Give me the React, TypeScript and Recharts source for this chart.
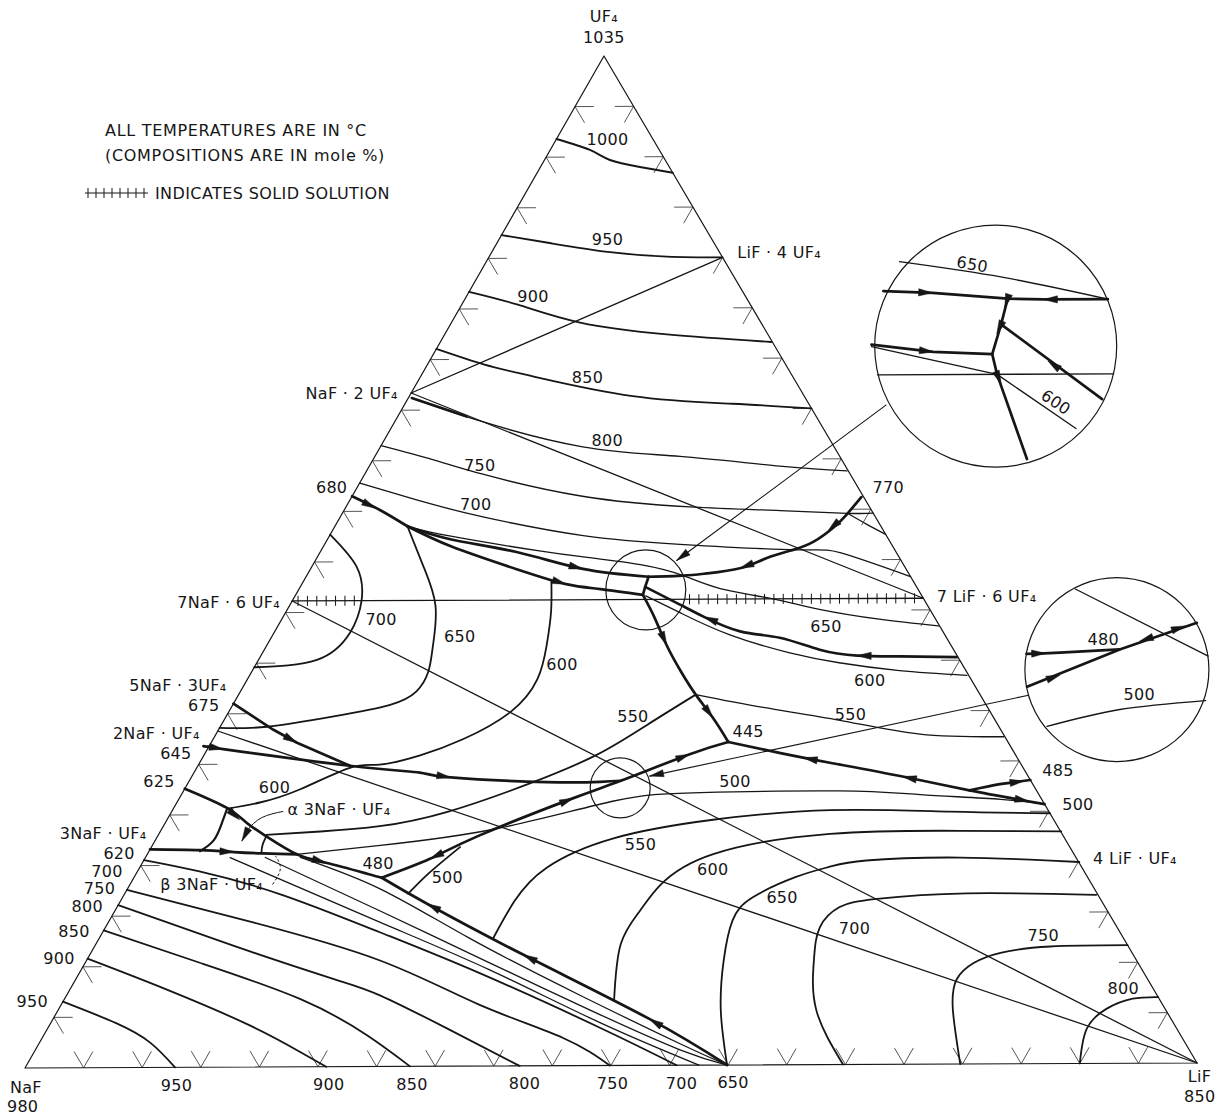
import React from "react";
import { ComposedChart, Line, Scatter, XAxis, YAxis } from "recharts";

// Every point is a composition: [mol % LiF, mol % UF4]  (NaF = 100 - LiF - UF4)
type P = [number, number];

// ---------------- compounds / invariant points ----------------
const NAF: P = [0, 0];
const LIF: P = [100, 0];
const UF4: P = [0, 100];
const NAF_2UF4: P = [0, 66.7];
const LIF_4UF4: P = [20, 80];
const NAF7_6UF4: P = [0, 46.15];
const LIF7_6UF4: P = [53.85, 46.15];
const NAF2_UF4: P = [0, 33.3];

// ---------------- UF4-rich isotherms ----------------
const ISO_1000: P[] = [[0, 91.8], [3.4, 90.7], [5.6, 89.7], [8.5, 89.0], [11.6, 88.4]];
const ISO_950: P[] = [[0, 82.3], [4.5, 81.5], [9.9, 80.6], [15.2, 80.1], [20, 80]];
const ISO_900: P[] = [[0, 76.7], [4.8, 75.4], [11.0, 73.6], [19.0, 72.4], [28.3, 71.6]];
const ISO_850: P[] = [[0, 71.05], [4.8, 69.5], [9.6, 68.3], [19.1, 66.3], [28.0, 65.5], [35.0, 65.0]];
const ISO_800: P[] = [[0.3, 66.2], [7.6, 63.8], [17.3, 61.3], [26.1, 60.3], [35.1, 59.3], [41.1, 58.8]];
const ISO_800_START: P[] = [[0.3, 66.2], [5.9, 64.35]];
const ISO_750: P[] = [[0, 61.5], [5.1, 60.1], [10.2, 58.6], [19.7, 56.4], [29.4, 55.3], [37.3, 54.9], [43.2, 54.6], [45.4, 54.6]];
const ISO_750_BRANCH: P[] = [[43.2, 54.6], [45.4, 53.5], [47.5, 52.5]];
const ISO_700_TOP: P[] = [[0, 57.8], [5.7, 56.1], [12.2, 54.4], [21.7, 52.5], [30.4, 51.6], [40.6, 51.0], [44.5, 50.7], [51.7, 48.3]];
const ISO_650_TOP: P[] = [[6.2, 53.5], [10.4, 52.5], [18.7, 51.0], [22.7, 50.4], [28.0, 49.6], [32.2, 48.5], [36.0, 47.2], [40.8, 46.2], [45.5, 45.1], [51.1, 44.1], [56.5, 43.4]];
const ISO_600_RIGHT: P[] = [[30.0, 46.5], [33.8, 44.8], [39.1, 42.6], [45.1, 40.8], [49.8, 39.8], [55.35, 39.0], [61.35, 38.5]];

// ---------------- 7NaF.6UF4 / 2NaF.UF4 fields ----------------
const ISO_700_76: P[] = [[0, 52.7], [3.85, 49.5], [5.9, 46.2], [6.5, 42.95], [5.0, 40.3], [0, 39.6]];
const ISO_650_76: P[] = [[6.2, 53.5], [9.55, 49.5], [12.5, 45.6], [14.25, 41.6], [15.1, 39.1], [15.05, 37.15], [13.4, 35.8], [9.2, 34.7], [4.0, 33.7], [0, 33.6]];
const ISO_600_LEFT: P[] = [[21.2, 48.0], [22.7, 44.9], [23.95, 41.6], [24.8, 38.3], [24.1, 35.05], [21.4, 32.4], [18.5, 30.8], [15.5, 29.9], [13.1, 29.6], [9.9, 27.5], [7.1, 26.2], [4.6, 25.6]];
const ISO_600_ALPHA: P[] = [[4.6, 25.6], [4.85, 24.2], [5.0, 22.5], [4.35, 21.4]];
const ISO_550_ALPHA: P[] = [[9.3, 22.85], [9.4, 22.0], [9.7, 21.2]];
const ISO_550_LEFT: P[] = [[39.1, 36.7], [36.4, 33.7], [33.6, 30.8], [29.3, 28.0], [23.6, 25.2], [18.5, 23.8], [13.7, 23.3], [9.2, 23.0]];
const ISO_550_RIGHT: P[] = [[39.1, 36.7], [45.5, 35.4], [52.7, 34.1], [60.2, 32.7], [67.5, 32.4]];
const ISO_500_UPPER: P[] = [[12.8, 21.05], [19.5, 21.9], [28.6, 23.5], [37.3, 26.2], [44.3, 27.0], [56.1, 27.1], [63.2, 26.7], [70.3, 26.2], [74.3, 25.7]];
const ISO_500_LOWER: P[] = [[24.25, 17.1], [25.05, 19.2], [26.4, 21.7]];

// ---------------- LiF field ----------------
const ISO_550_LIF: P[] = [[33.7, 12.65], [33.7, 16.3], [34.8, 19.6], [39.1, 22.5], [46.7, 24.3], [56.3, 25.2], [66.55, 25.0], [75.2, 24.8]];
const ISO_600_LIF: P[] = [[47.1, 6.4], [44.9, 12.0], [44.9, 15.3], [45.4, 17.9], [48.4, 20.9], [57.4, 22.85], [68.4, 23.1], [77.05, 23.0]];
const ISO_650_LIF: P[] = [[59.9, 0], [56.7, 5.4], [54.5, 10.35], [53.3, 14.3], [53.9, 16.6], [56.6, 18.6], [59.0, 19.6], [61.8, 20.2], [69.7, 20.45], [80.1, 19.96]];
const ISO_700_LIF: P[] = [[69.8, 0], [64.85, 5.4], [62.2, 10.35], [61.1, 13.6], [61.8, 15.6], [64.6, 16.4], [72.0, 16.9], [83.15, 16.7]];
const ISO_750_LIF: P[] = [[79.8, 0], [76.5, 5.4], [75.35, 8.4], [76.0, 10.0], [77.8, 11.0], [81.75, 11.6], [88.3, 11.7]];
const ISO_800_LIF: P[] = [[90, 0], [88.9, 3.4], [89.6, 5.4], [91.35, 6.4], [93.45, 6.55]];

// ---------------- NaF field ----------------
const ISO_700_NAF: P[] = [[0, 20.55], [5.3, 19.4], [13.35, 17.1], [23.7, 13.3], [34.25, 9.2], [47.2, 3.75], [55.6, 0]];
const ISO_750_NAF: P[] = [[0, 17.6], [12.1, 14.4], [25.1, 10.5], [35.8, 6.06], [44.5, 2.77], [49.9, 0]];
const ISO_800_NAF: P[] = [[0, 16.1], [11.9, 12.0], [22.0, 8.7], [26.8, 7.05], [34.15, 3.75], [42.2, 0]];
const ISO_850_NAF: P[] = [[0, 13.6], [9.8, 10.35], [20.2, 6.7], [27.65, 3.1], [32.85, 0]];
const ISO_900_NAF: P[] = [[0, 10.8], [8.3, 7.7], [17.2, 4.1], [22.8, 1.45], [25.7, 0]];
const ISO_950_NAF: P[] = [[0, 6.55], [5.6, 4.4], [9.5, 2.44], [12.8, 0]];
const BETA_1: P[] = [[13.25, 20.75], [21.6, 17.6], [31.7, 12.65], [43.85, 7.0], [54.9, 2.1], [59.9, 0]];
const BETA_2: P[] = [[10.25, 20.75], [22.7, 15.4], [33.5, 10.7], [45.5, 5.5], [55.2, 1.5], [59.9, 0]];
const BETA_3: P[] = [[7.25, 20.75], [23.2, 14.3], [35.0, 9.5], [46.96, 4.25], [57.5, 0]];

// ---------------- boundary curves (heavy) ----------------
const B_680: P[] = [[0, 56.5], [3.1, 55.1], [6.2, 53.5]];
const B_UPPER: P[] = [[6.2, 53.5], [10.5, 52.2], [16.8, 50.9], [23.3, 49.2], [29.3, 48.4]];
const B_LOWER: P[] = [[6.2, 53.5], [10.9, 51.5], [17.65, 49.2], [22.6, 47.7], [25.8, 47.2], [29.7, 46.6]];
const B_J1J2: P[] = [[29.3, 48.4], [29.5, 47.4], [29.7, 46.6]];
const B_770: P[] = [[43.6, 56.2], [43.2, 54.5], [42.7, 53.2], [41.7, 51.8], [40.35, 51.0], [38.5, 50.2], [36.7, 49.2], [34.1, 48.7], [32.2, 48.5], [29.3, 48.4]];
const B_R600: P[] = [[29.5, 47.4], [33.4, 45.6], [36.0, 44.4], [39.8, 42.95], [43.5, 42.3], [47.5, 41.1], [51.0, 40.5], [54.7, 40.4], [59.6, 40.3]];
const B_TO_445: P[] = [[29.7, 46.6], [31.85, 44.3], [34.2, 41.6], [36.6, 39.1], [39.1, 36.7], [41.7, 34.4], [44.2, 32.0]];
const B_445_500: P[] = [[44.2, 32.0], [49.1, 30.9], [53.9, 29.9], [60.8, 28.5], [67.2, 27.1], [74.3, 25.7]];
const B_485: P[] = [[71.9, 28.1], [69.5, 27.7], [67.2, 27.1]];
const B_480_445: P[] = [[21.2, 18.7], [24.4, 20.55], [27.5, 22.85], [33.7, 26.5], [36.9, 28.2], [41.5, 30.8], [44.2, 32.0]];
const B_645: P[] = [[0, 31.75], [1.35, 31.5], [13.0, 29.8], [19.3, 29.1], [22.2, 28.6], [30.6, 28.1], [35.2, 28.1], [36.9, 28.2]];
const B_675: P[] = [[0, 36.0], [4.7, 33.4], [7.35, 32.1], [13.0, 29.8]];
const B_625: P[] = [[0, 27.6], [4.5, 25.7], [6.95, 24.2], [9.3, 22.85], [12.8, 21.05], [15.7, 20.2], [19.75, 19.1], [21.2, 18.7]];
const B_620: P[] = [[0, 21.6], [4.3, 21.5], [7.3, 21.3], [9.85, 21.15], [12.8, 21.05]];
const B_480_650: P[] = [[21.2, 18.7], [26.35, 16.1], [37.1, 11.0], [51.0, 4.6], [59.9, 0]];

// ---------------- pointers ----------------
const LEADER_TOP: P[] = [[41.2, 65.3], [30.9, 50.0]];
const LEADER_RIGHT: P[] = [[67.6, 36.5], [39.15, 28.65]];
const ALPHA_POINTER: P[] = [[9.5, 25.3], [8.0, 24.7], [7.4, 23.5], [7.45, 22.4]];
const BETA_BRACKET: P[] = [[12.2, 18.1], [12.1, 19.6], [11.1, 20.85]];

// ---------------- enlarged views ----------------
const IN1_650: P[] = [[35.35, 79.5], [45.0, 77.9], [55.0, 75.7]];
const IN1_TOP: P[] = [[35.4, 76.6], [39.7, 76.4], [46.4, 75.8], [49.5, 75.7], [55.0, 75.7]];
const IN1_VERT: P[] = [[46.4, 75.8], [47.1, 73.25], [47.8, 70.3]];
const IN1_DIAG: P[] = [[47.1, 73.25], [59.4, 65.8]];
const IN1_MID: P[] = [[37.0, 71.3], [42.65, 70.55], [47.8, 70.3]];
const IN1_DOWN: P[] = [[47.8, 70.3], [49.2, 68.3], [55.9, 59.9]];
const IN1_600: P[] = [[37.1, 71.1], [49.2, 68.3], [58.6, 62.9]];
const IN1_JOIN: P[] = [[39.0, 68.3], [59.15, 68.3]];
const IN2_JOIN: P[] = [[66.4, 47.0], [81.05, 40.3]];
const IN2_A: P[] = [[65.4, 40.6], [68.2, 40.7], [73.15, 41.0]];
const IN2_B: P[] = [[67.05, 37.35], [73.15, 41.0], [78.45, 43.6]];
const IN2_500: P[] = [[70.7, 33.4], [76.1, 35.05], [83.0, 35.9]];

// ---------------- circles: centre composition, radius ----------------
const CIRCLES: { at: P; r: number }[] = [
  { at: [29.7, 47.1], r: 40 },
  { at: [37.2, 27.5], r: 30 },
  { at: [47.7, 71.1], r: 121 },
  { at: [73.9, 39.0], r: 92 },
];

// ---------------- arrowheads: tip and a point behind it ----------------
const ARROWS: { at: P; from: P }[] = [
  { at: [2.6, 55.3], from: [0, 56.5] },
  { at: [42.4, 52.9], from: [43.2, 54.5] },
  { at: [36.7, 49.2], from: [38.5, 50.2] },
  { at: [23.3, 49.2], from: [16.8, 50.9] },
  { at: [22.6, 47.7], from: [17.65, 49.2] },
  { at: [36.0, 44.4], from: [39.8, 42.95] },
  { at: [51.0, 40.5], from: [54.7, 40.4] },
  { at: [34.2, 41.6], from: [31.85, 44.3] },
  { at: [41.7, 34.4], from: [39.1, 36.7] },
  { at: [41.5, 30.8], from: [36.9, 28.2] },
  { at: [33.7, 26.5], from: [27.5, 22.85] },
  { at: [24.4, 20.55], from: [27.5, 22.85] },
  { at: [51.4, 30.4], from: [53.9, 29.9] },
  { at: [60.8, 28.5], from: [67.2, 27.1] },
  { at: [72.8, 26.0], from: [67.2, 27.1] },
  { at: [71.4, 28.0], from: [69.5, 27.7] },
  { at: [1.35, 31.5], from: [0, 31.75] },
  { at: [22.2, 28.6], from: [19.3, 29.1] },
  { at: [7.35, 32.1], from: [4.7, 33.4] },
  { at: [6.2, 24.5], from: [4.5, 25.7] },
  { at: [15.7, 20.2], from: [12.8, 21.05] },
  { at: [7.3, 21.3], from: [4.3, 21.5] },
  { at: [26.35, 16.1], from: [37.1, 11.0] },
  { at: [37.1, 11.0], from: [51.0, 4.6] },
  { at: [51.0, 4.6], from: [59.9, 0] },
  { at: [30.9, 50.0], from: [41.2, 65.3] },
  { at: [39.15, 28.65], from: [67.6, 36.5] },
  { at: [7.45, 22.4], from: [7.4, 23.5] },
  { at: [39.7, 76.4], from: [35.4, 76.6] },
  { at: [49.5, 75.7], from: [55.0, 75.7] },
  { at: [46.6, 74.9], from: [46.4, 75.8] },
  { at: [47.2, 72.3], from: [47.1, 73.25] },
  { at: [52.9, 69.6], from: [59.4, 65.8] },
  { at: [42.65, 70.55], from: [37.0, 71.3] },
  { at: [50.05, 67.3], from: [49.2, 68.3] },
  { at: [67.0, 40.65], from: [65.4, 40.6] },
  { at: [69.3, 38.5], from: [67.05, 37.35] },
  { at: [74.45, 41.8], from: [78.45, 43.6] },
  { at: [77.6, 43.3], from: [74.45, 41.8] },
];

// ---------------- grid ticks and solid solution ----------------
const TICK_PCTS = [5, 10, 15, 20, 25, 30, 35, 40, 45, 50, 55, 60, 65, 70, 75, 80, 85, 90, 95];
const SOLID_SOLUTION_UF4 = 46.15;
const SOLID_SOLUTION_RANGES: P[] = [[0.5, 5.8], [33.9, 53.4]];
const HATCH_STEP = 0.8;

// ---------------- text ----------------
type Lab = { text: string; at: P; anchor?: "start" | "middle" | "end"; rot?: number };
const VERTEX_LABELS: Lab[] = [
  { text: "UF₄", at: [-1.95, 103.95] },
  { text: "1035", at: [-0.9, 101.8] },
  { text: "NaF", at: [1.06, -1.98] },
  { text: "980", at: [1.7, -3.85] },
  { text: "LiF", at: [100.9, -1.38] },
  { text: "850", at: [101.9, -3.36] },
];
const LEFT_LABELS: Lab[] = [
  { text: "NaF · 2 UF₄", at: [-1.15, 66.7] },
  { text: "680", at: [-0.85, 57.4] },
  { text: "7NaF · 6 UF₄", at: [-1.0, 46.05] },
  { text: "5NaF · 3UF₄", at: [-1.5, 37.85] },
  { text: "675", at: [-1.1, 35.8] },
  { text: "2NaF · UF₄", at: [-1.45, 33.1] },
  { text: "645", at: [-1.15, 31.1] },
  { text: "625", at: [-1.2, 28.3] },
  { text: "3NaF · UF₄", at: [-1.1, 23.2] },
  { text: "620", at: [-1.1, 21.2] },
  { text: "700", at: [-1.25, 19.4] },
  { text: "750", at: [-1.05, 17.7] },
  { text: "800", at: [-1.25, 16.0] },
  { text: "850", at: [-1.15, 13.5] },
  { text: "900", at: [-1.1, 10.8] },
  { text: "950", at: [-1.3, 6.6] },
];
const RIGHT_LABELS: Lab[] = [
  { text: "LiF · 4 UF₄", at: [21.0, 80.5] },
  { text: "770", at: [44.1, 57.1] },
  { text: "7 LiF · 6 UF₄", at: [54.9, 46.35] },
  { text: "485", at: [72.45, 29.05] },
  { text: "500", at: [75.8, 25.7] },
  { text: "4 LiF · UF₄", at: [81.1, 20.3] },
];
const BOTTOM_LABELS: Lab[] = [
  { text: "950", at: [13.8, -1.78] },
  { text: "900", at: [26.8, -1.78] },
  { text: "850", at: [33.9, -1.78] },
  { text: "800", at: [43.5, -1.78] },
  { text: "750", at: [51.0, -1.78] },
  { text: "700", at: [56.9, -1.78] },
  { text: "650", at: [61.3, -1.78] },
];
const ISOTHERM_LABELS: Lab[] = [
  { text: "1000", at: [4.4, 91.7] },
  { text: "950", at: [9.3, 81.8] },
  { text: "900", at: [5.7, 76.2] },
  { text: "850", at: [14.3, 68.2] },
  { text: "800", at: [19.1, 61.9] },
  { text: "750", at: [9.4, 59.5] },
  { text: "700", at: [11.0, 55.6] },
  { text: "700", at: [8.5, 44.3] },
  { text: "650", at: [16.05, 42.6] },
  { text: "600", at: [26.2, 39.7] },
  { text: "650", at: [46.9, 43.4] },
  { text: "600", at: [53.3, 38.0] },
  { text: "550", at: [34.8, 34.55] },
  { text: "550", at: [53.3, 34.7] },
  { text: "445", at: [45.4, 33.0] },
  { text: "500", at: [46.7, 28.1] },
  { text: "550", at: [41.7, 21.9] },
  { text: "600", at: [49.1, 19.4] },
  { text: "650", at: [56.4, 16.6] },
  { text: "700", at: [64.1, 13.5] },
  { text: "750", at: [80.6, 12.7] },
  { text: "800", at: [90.05, 7.4] },
  { text: "600", at: [7.6, 27.7] },
  { text: "480", at: [20.2, 20.1] },
  { text: "500", at: [26.8, 18.7] },
];
const FIELD_LABELS: Lab[] = [
  { text: "α 3NaF · UF₄", at: [9.8, 25.5], anchor: "start" },
  { text: "β 3NaF · UF₄", at: [2.6, 18.1], anchor: "start" },
];
const INSET_LABELS: Lab[] = [
  { text: "650", at: [41.7, 79.2], rot: 10 },
  { text: "600", at: [55.6, 65.5], rot: 34 },
  { text: "480", at: [71.25, 42.0] },
  { text: "500", at: [77.05, 36.5] },
];

// ---------------- layout ----------------
const CHART_W = 1222;
const CHART_H = 1115;
const NAF_PX = 25;
const BASE_PX = 1068;
const PX_PER_X = 11.72;
const PX_PER_Y = 10.12;
const APEX_SHIFT = 0.494;
const BASE_TILT = 0.00494;
const X_DOMAIN: [number, number] = [-NAF_PX / PX_PER_X, (CHART_W - NAF_PX) / PX_PER_X];
const Y_DOMAIN: [number, number] = [-(CHART_H - BASE_PX) / PX_PER_Y, BASE_PX / PX_PER_Y];
const INK = "#161616";
const FONT = "'DejaVu Sans', 'Noto Sans', sans-serif";
const THIN = 1.3;
const THICK = 2.7;
const TICK_LEN = 1.6;
const HATCH_H = 0.5;

const toXY = ([l, u]: P) => ({ x: l + APEX_SHIFT * u, y: u + BASE_TILT * l });

type Series = { pts: P[]; w: number; curve?: "natural" | "linear"; dash?: string; color?: string };

const SERIES: Series[] = [
  { pts: [NAF, LIF, UF4, NAF], w: 1.2, curve: "linear" },
  { pts: [NAF_2UF4, LIF_4UF4], w: THIN, curve: "linear" },
  { pts: [NAF_2UF4, LIF7_6UF4], w: THIN, curve: "linear" },
  { pts: [NAF7_6UF4, LIF7_6UF4], w: THIN, curve: "linear" },
  { pts: [NAF7_6UF4, LIF], w: THIN, curve: "linear" },
  { pts: [NAF2_UF4, LIF], w: THIN, curve: "linear" },
  { pts: ISO_1000, w: 2 },
  { pts: ISO_950, w: 1.8 },
  { pts: ISO_900, w: 1.8 },
  { pts: ISO_850, w: 1.8 },
  { pts: ISO_800, w: THIN },
  { pts: ISO_800_START, w: THICK, curve: "linear" },
  { pts: ISO_750, w: THIN },
  { pts: ISO_750_BRANCH, w: THIN },
  { pts: ISO_700_TOP, w: THIN },
  { pts: ISO_650_TOP, w: THIN },
  { pts: ISO_600_RIGHT, w: THIN },
  { pts: ISO_700_76, w: 1.8 },
  { pts: ISO_650_76, w: 1.8 },
  { pts: ISO_600_LEFT, w: 1.8 },
  { pts: ISO_600_ALPHA, w: 2.2 },
  { pts: ISO_550_ALPHA, w: 1.8 },
  { pts: ISO_550_LEFT, w: 1.8 },
  { pts: ISO_550_RIGHT, w: THIN },
  { pts: ISO_500_UPPER, w: THIN },
  { pts: ISO_500_LOWER, w: 1.8 },
  { pts: ISO_550_LIF, w: 1.8 },
  { pts: ISO_600_LIF, w: 1.8 },
  { pts: ISO_650_LIF, w: 1.8 },
  { pts: ISO_700_LIF, w: 1.8 },
  { pts: ISO_750_LIF, w: 1.8 },
  { pts: ISO_800_LIF, w: 1.8 },
  { pts: ISO_700_NAF, w: 1.8 },
  { pts: ISO_750_NAF, w: 1.8 },
  { pts: ISO_800_NAF, w: 1.8 },
  { pts: ISO_850_NAF, w: 1.8 },
  { pts: ISO_900_NAF, w: 1.8 },
  { pts: ISO_950_NAF, w: 1.8 },
  { pts: BETA_1, w: THIN },
  { pts: BETA_2, w: THIN },
  { pts: BETA_3, w: THIN },
  { pts: B_680, w: THICK },
  { pts: B_UPPER, w: THICK },
  { pts: B_LOWER, w: THICK },
  { pts: B_J1J2, w: THICK, curve: "linear" },
  { pts: B_770, w: THICK },
  { pts: B_R600, w: THICK },
  { pts: B_TO_445, w: THICK },
  { pts: B_445_500, w: THICK },
  { pts: B_485, w: THICK },
  { pts: B_480_445, w: THICK },
  { pts: B_645, w: THICK },
  { pts: B_675, w: THICK, curve: "linear" },
  { pts: B_625, w: THICK },
  { pts: B_620, w: THICK },
  { pts: B_480_650, w: THICK },
  { pts: LEADER_TOP, w: 1.1, curve: "linear" },
  { pts: LEADER_RIGHT, w: 1.1, curve: "linear" },
  { pts: ALPHA_POINTER, w: 1.0 },
  { pts: BETA_BRACKET, w: 1.0, dash: "2 3" },
  { pts: IN1_650, w: THIN },
  { pts: IN1_TOP, w: THICK, curve: "linear" },
  { pts: IN1_VERT, w: THICK, curve: "linear" },
  { pts: IN1_DIAG, w: THICK, curve: "linear" },
  { pts: IN1_MID, w: THICK, curve: "linear" },
  { pts: IN1_DOWN, w: THICK, curve: "linear" },
  { pts: IN1_600, w: THIN, curve: "linear" },
  { pts: IN1_JOIN, w: THIN, curve: "linear" },
  { pts: IN2_JOIN, w: THIN, curve: "linear" },
  { pts: IN2_A, w: THICK },
  { pts: IN2_B, w: THICK, curve: "linear" },
  { pts: IN2_500, w: THIN },
];

// short straight marks (edge ticks, hatches) joined with breaks
function segmentsToData(segs: P[][]) {
  const out: { x: number; y: number | null }[] = [];
  segs.forEach((s) => {
    s.forEach((p) => out.push(toXY(p)));
    out.push({ x: toXY(s[s.length - 1]).x, y: null });
  });
  return out;
}

function edgeTickSegments(): P[][] {
  const segs: P[][] = [];
  TICK_PCTS.forEach((t) => {
    segs.push([[TICK_LEN, t], [0, t], [TICK_LEN, t - TICK_LEN]]);
    const l = 100 - t;
    segs.push([[l - TICK_LEN, t], [l, t], [l, t - TICK_LEN]]);
    segs.push([[t - TICK_LEN, TICK_LEN], [t, 0], [t, TICK_LEN]]);
  });
  return segs;
}

function hatchSegments(): P[][] {
  const segs: P[][] = [];
  SOLID_SOLUTION_RANGES.forEach(([a, b]) => {
    for (let l = a; l <= b + 1e-6; l += HATCH_STEP) {
      segs.push([
        [l + APEX_SHIFT * HATCH_H, SOLID_SOLUTION_UF4 - HATCH_H],
        [l - APEX_SHIFT * HATCH_H, SOLID_SOLUTION_UF4 + HATCH_H],
      ]);
    }
  });
  return segs;
}

const TICK_DATA = segmentsToData(edgeTickSegments());
const HATCH_DATA = segmentsToData(hatchSegments());

const ARROW_DATA = ARROWS.map((a) => {
  const t = toXY(a.at);
  const f = toXY(a.from);
  return { x: t.x, y: t.y, dx: t.x - f.x, dy: t.y - f.y };
});
const CIRCLE_DATA = CIRCLES.map((c) => ({ ...toXY(c.at), r: c.r }));
const LABEL_DATA = [
  ...VERTEX_LABELS.map((l) => ({ ...l, anchor: "middle" })),
  ...LEFT_LABELS.map((l) => ({ ...l, anchor: "end" })),
  ...RIGHT_LABELS.map((l) => ({ ...l, anchor: "start" })),
  ...BOTTOM_LABELS.map((l) => ({ ...l, anchor: "middle" })),
  ...ISOTHERM_LABELS.map((l) => ({ ...l, anchor: "middle" })),
  ...FIELD_LABELS,
  ...INSET_LABELS.map((l) => ({ ...l, anchor: "middle" })),
].map((l) => ({ ...toXY(l.at), text: l.text, anchor: l.anchor, rot: l.rot }));

function ArrowHead(props: any) {
  const { cx, cy, payload } = props;
  if (cx == null || cy == null || !payload) return null;
  const vx = payload.dx * PX_PER_X;
  const vy = -payload.dy * PX_PER_Y;
  const n = Math.hypot(vx, vy) || 1;
  const ux = vx / n;
  const uy = vy / n;
  const len = 14;
  const half = 3.6;
  const bx = cx - ux * len;
  const by = cy - uy * len;
  return (
    <polygon
      points={`${cx},${cy} ${bx - uy * half},${by + ux * half} ${bx + uy * half},${by - ux * half}`}
      fill={INK}
      stroke={INK}
      strokeWidth={0.5}
    />
  );
}

function Ring(props: any) {
  const { cx, cy, payload } = props;
  if (cx == null || cy == null || !payload) return null;
  return <circle cx={cx} cy={cy} r={payload.r} fill="none" stroke={INK} strokeWidth={1.2} />;
}

function TextMark(props: any) {
  const { cx, cy, payload } = props;
  if (cx == null || cy == null || !payload) return null;
  return (
    <text
      x={cx}
      y={cy}
      textAnchor={payload.anchor || "middle"}
      dominantBaseline="central"
      fontFamily={FONT}
      fontSize={16}
      letterSpacing={0.3}
      fill={INK}
      transform={payload.rot ? `rotate(${payload.rot} ${cx} ${cy})` : undefined}
    >
      {payload.text}
    </text>
  );
}

function LegendNote() {
  const hatchXs = [88, 96, 104, 112, 120, 128, 136, 144];
  const txt = { fontFamily: FONT, fontSize: 16, fill: INK, letterSpacing: 0.7, dominantBaseline: "central" as const };
  return (
    <svg width={CHART_W} height={CHART_H} style={{ position: "absolute", left: 0, top: 0, pointerEvents: "none" }}>
      <text x={105} y={130} {...txt}>ALL TEMPERATURES ARE IN °C</text>
      <text x={105} y={155} {...txt}>(COMPOSITIONS ARE IN mole %)</text>
      <line x1={85} y1={193} x2={148} y2={193} stroke={INK} strokeWidth={1.1} />
      {hatchXs.map((x) => (
        <line key={x} x1={x} y1={188} x2={x} y2={198} stroke={INK} strokeWidth={1} />
      ))}
      <text x={155} y={193} {...txt} letterSpacing={0.4}>INDICATES SOLID SOLUTION</text>
    </svg>
  );
}

export default function App() {
  return (
    <div style={{ position: "absolute", left: 0, top: 0, width: CHART_W, height: CHART_H, background: "#fff" }}>
      <ComposedChart width={CHART_W} height={CHART_H} margin={{ top: 0, right: 0, bottom: 0, left: 0 }}>
        <XAxis type="number" dataKey="x" domain={X_DOMAIN} hide allowDataOverflow />
        <YAxis type="number" dataKey="y" domain={Y_DOMAIN} hide allowDataOverflow />
        <Line
          data={TICK_DATA}
          dataKey="y"
          type="linear"
          stroke="#555"
          strokeWidth={1}
          dot={false}
          activeDot={false}
          isAnimationActive={false}
        />
        <Line
          data={HATCH_DATA}
          dataKey="y"
          type="linear"
          stroke={INK}
          strokeWidth={1}
          dot={false}
          activeDot={false}
          isAnimationActive={false}
        />
        {SERIES.map((s, i) => (
          <Line
            key={i}
            data={s.pts.map(toXY)}
            dataKey="y"
            type={s.curve ?? "natural"}
            stroke={s.color ?? INK}
            strokeWidth={s.w}
            strokeDasharray={s.dash}
            strokeLinejoin="round"
            strokeLinecap="round"
            dot={false}
            activeDot={false}
            isAnimationActive={false}
          />
        ))}
        <Scatter data={CIRCLE_DATA} dataKey="y" shape={Ring} isAnimationActive={false} />
        <Scatter data={ARROW_DATA} dataKey="y" shape={ArrowHead} isAnimationActive={false} />
        <Scatter data={LABEL_DATA} dataKey="y" shape={TextMark} isAnimationActive={false} />
      </ComposedChart>
      <LegendNote />
    </div>
  );
}
